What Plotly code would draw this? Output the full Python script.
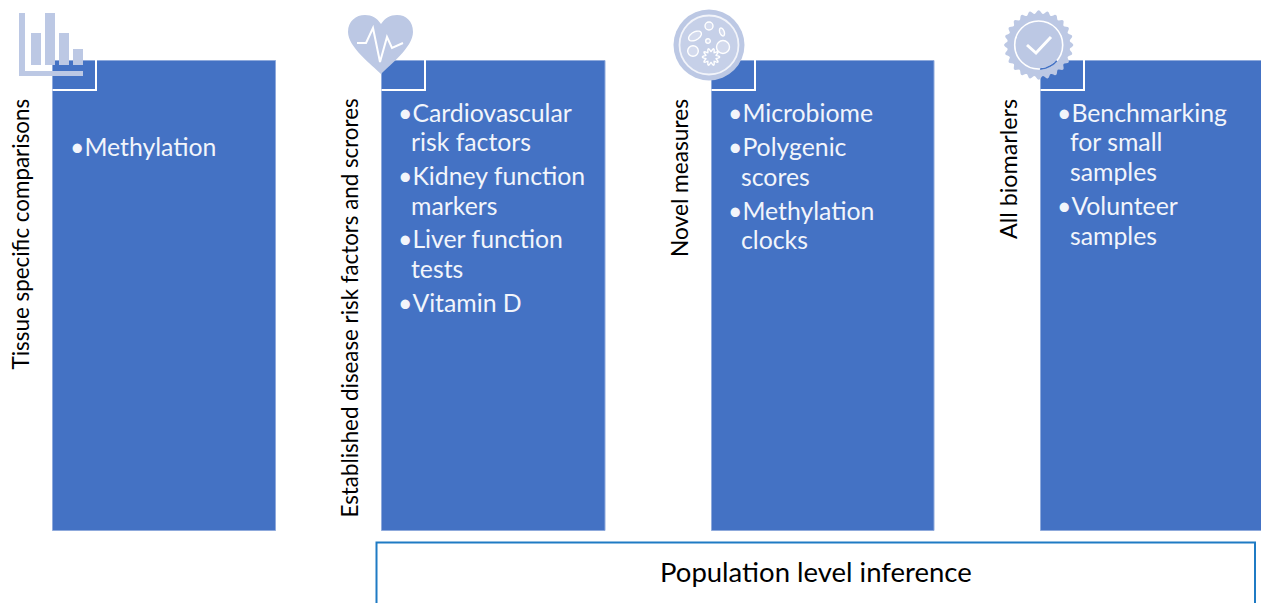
import math
import plotly.graph_objects as go

W, H = 1261, 603
BLUE, EDGE, ICON, FRAME = "#4472C4", "#8FAADC", "#BCC8E4", "#1F7BC4"

# Content
side_labels = ["Tissue specific comparisons", "Established disease risk factors and scrores",
               "Novel measures", "All biomarlers"]
panel_lines = [
    ["•Methylation"],
    ["•Cardiovascular", " risk factors", "•Kidney function", " markers", "•Liver function", " tests", "•Vitamin D"],
    ["•Microbiome", "•Polygenic", " scores", "•Methylation", " clocks"],
    ["•Benchmarking", " for small", " samples", "•Volunteer", " samples"],
]
footer_label = "Population level inference"

# Layout
panel_left = [52.5, 381.5, 711.5, 1040.5]
panel_right = [275.5, 605, 934, 1262]
panel_top, panel_bottom = 60.5, 530.5
label_x = [20, 349, 679, 1008]
label_size = [22.4, 22.3, 22.7, 23.3]
line_y = [
    [146],
    [112, 141, 175, 205, 238, 268, 302],
    [112, 146, 176, 210, 239],
    [112, 141, 171, 205, 235],
]
text_x = [67.5, 396, 725.5, 1055]
TEXT_SIZE, FOOT_SIZE = 24.8, 27.5
FONT = "Lato"

shapes, ann = [], []


def rect(x0, y0, x1, y1, fill=None, line=None, w=1):
    shapes.append(dict(type="rect", x0=x0, y0=y0, x1=x1, y1=y1, fillcolor=fill or "rgba(0,0,0,0)",
                       line=dict(color=line or "rgba(0,0,0,0)", width=w if line else 0), layer="above"))


def path(d, fill=None, line=None, w=1):
    shapes.append(dict(type="path", path=d, fillcolor=fill or "rgba(0,0,0,0)",
                       line=dict(color=line or "rgba(0,0,0,0)", width=w if line else 0), layer="above"))


def circle(cx, cy, r, fill=None, line=None, w=1):
    shapes.append(dict(type="circle", x0=cx - r, y0=cy - r, x1=cx + r, y1=cy + r,
                       fillcolor=fill or "rgba(0,0,0,0)",
                       line=dict(color=line or "rgba(0,0,0,0)", width=w if line else 0), layer="above"))


def poly(pts, close=True):
    return "M " + " L ".join(f"{x:.2f},{y:.2f}" for x, y in pts) + (" Z" if close else "")


def ellipse(cx, cy, a, b, rot):
    t = math.radians(rot)
    pts = []
    for i in range(32):
        u = 2 * math.pi * i / 32
        x, y = a * math.cos(u), b * math.sin(u)
        pts.append((cx + x * math.cos(t) - y * math.sin(t), cy + x * math.sin(t) + y * math.cos(t)))
    return poly(pts)


def scallop(cx, cy, r, amp, n):
    pts = []
    for i in range(n * 8):
        u = 2 * math.pi * i / (n * 8)
        rr = r + amp * math.cos(n * u)
        pts.append((cx + rr * math.cos(u), cy + rr * math.sin(u)))
    return poly(pts)


def arc(cx, cy, r, a0, a1, n=16):
    pts = []
    for i in range(n + 1):
        u = math.radians(a0 + (a1 - a0) * i / n)
        pts.append((cx + r * math.cos(u), cy + r * math.sin(u)))
    return poly(pts, False)


# Panels
for l, r in zip(panel_left, panel_right):
    rect(l, panel_top, r, panel_bottom, BLUE, EDGE, 1)
    path(f"M {l},90 L {l + 43.5},90 L {l + 43.5},60", None, "#FFFFFF", 2)

# Footer frame, open at the foot of the page
path("M 376.5,604 L 376.5,542.5 L 1255,542.5 L 1255,604", None, FRAME, 2)

# Bar icon
for box in [(19, 13, 25, 76), (19, 71, 83, 76), (31, 33, 41, 65), (45, 13, 55, 65), (59, 33, 69, 65), (73, 49, 83, 65)]:
    rect(*box, ICON)

# Heart icon
path("M 381,74 C 372,65 348,47 348,32 C 348,21 356,15 365,15 C 372,15 377,18 381,24 "
     "C 385,18 390,15 397,15 C 406,15 413,21 413,32 C 413,47 390,65 381,74 Z", ICON)
path(poly([(357, 43), (366, 43), (373, 28), (380, 62), (387, 37), (392, 48), (403, 43)], False), None, "#FFFFFF", 2)

# Dish icon
circle(709, 45, 35.5, ICON)
circle(709, 45, 29.5, "#C6D0E8", "#F2F4FA", 1.8)
for cx, cy, r in [(723, 47, 6.5), (693, 51, 5.3), (709, 26, 4), (708, 41, 2.3)]:
    circle(cx, cy, r, "#D3DAED", "#FFFFFF", 1.4)
path(ellipse(695, 36, 7, 4, -30), "#D3DAED", "#FFFFFF", 1.4)
path(ellipse(722, 32, 2.2, 4.2, -20), "#D3DAED", "#FFFFFF", 1.4)
path(scallop(711, 57, 7, 1.6, 10), None, "#FFFFFF", 1.4)

# Badge icon
path(scallop(1038.7, 45, 33, 1.7, 24), ICON)
circle(1038.7, 45, 24, None, "#FFFFFF", 1.6)
path(arc(1038.7, 45, 24, 41, 87), None, BLUE, 1.6)
path(poly([(1027, 45), (1036, 53), (1051, 37)], False), None, "#FFFFFF", 3)

# Text
for i, label in enumerate(side_labels):
    ann.append(dict(x=label_x[i], y=97, text=label, textangle=-90, showarrow=False, xanchor="center",
                    yanchor="top", font=dict(family=FONT, size=label_size[i], color="#000000")))
for i, lines in enumerate(panel_lines):
    for text, y in zip(lines, line_y[i]):
        indent = 13 if text.startswith(" ") else 0
        ann.append(dict(x=text_x[i] + indent, y=y, text=text.strip(), showarrow=False, xanchor="left",
                        yanchor="middle", font=dict(family=FONT, size=TEXT_SIZE, color="#F2F5FB")))
ann.append(dict(x=816, y=571, text=footer_label, showarrow=False, xanchor="center", yanchor="middle",
                font=dict(family=FONT, size=FOOT_SIZE, color="#000000")))

fig = go.Figure()
fig.update_layout(width=W, height=H, margin=dict(l=0, r=0, t=0, b=0), paper_bgcolor="white", plot_bgcolor="white",
                  xaxis=dict(range=[0, W], visible=False, fixedrange=True),
                  yaxis=dict(range=[H, 0], visible=False, fixedrange=True),
                  shapes=shapes, annotations=ann, showlegend=False)
fig.write_html("out.html", config=dict(displayModeBar=False),
               post_script="document.body.style.margin='0';document.documentElement.style.overflow='hidden';")
